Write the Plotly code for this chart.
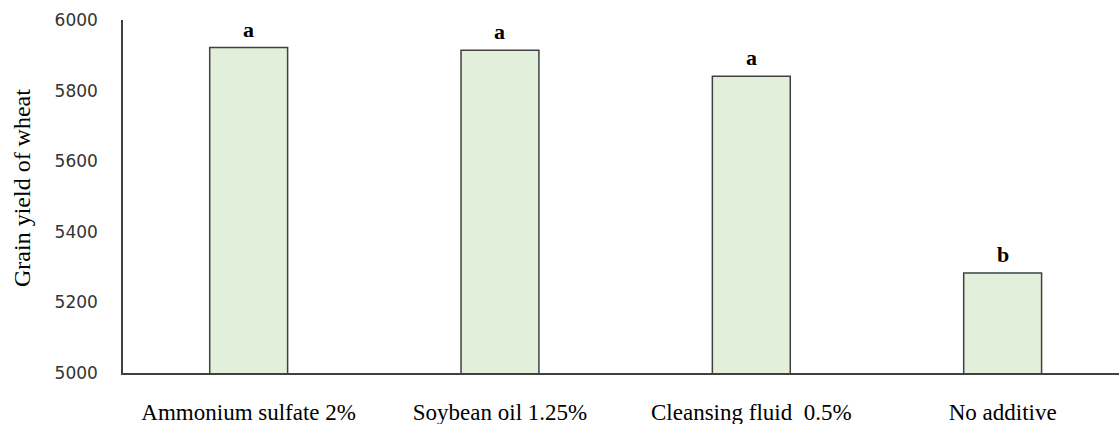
import plotly.graph_objects as go

categories = ["Ammonium sulfate 2%", "Soybean oil 1.25%", "Cleansing fluid  0.5%", "No additive"]
values = [5922, 5914, 5841, 5283]
letters = ["a", "a", "a", "b"]
y_ticks = [5000, 5200, 5400, 5600, 5800, 6000]

fig = go.Figure()
fig.add_trace(go.Bar(
    x=list(range(len(categories))), y=values, width=0.31,
    marker=dict(color="#e2efda", line=dict(color="#404040", width=1.5)),
))

for i, (v, l) in enumerate(zip(values, letters)):
    fig.add_annotation(x=i, y=v, text="<b>%s</b>" % l, showarrow=False,
                       yanchor="bottom", yshift=4,
                       font=dict(family="Liberation Serif", size=22, color="#000000"))

fig.add_annotation(xref="paper", yref="paper", x=-101/996, y=(373 - 188) / 353,
                   text="Grain yield of wheat",
                   textangle=-90, showarrow=False, xanchor="center", yanchor="middle",
                   font=dict(family="Liberation Serif", size=24, color="#000000"))

fig.update_layout(
    width=1119, height=424,
    margin=dict(l=123, r=0, t=20, b=51),
    paper_bgcolor="white", plot_bgcolor="white",
    showlegend=False,
    xaxis=dict(tickmode="array", tickvals=list(range(len(categories))), ticktext=categories,
               range=[-0.5, 3.463], showgrid=False, zeroline=False,
               showline=True, linecolor="#404040", linewidth=1.5,
               ticks="", ticklabelstandoff=18,
               tickfont=dict(family="Liberation Serif", size=23, color="#000000")),
    yaxis=dict(range=[5000, 6000], tickvals=y_ticks, showgrid=False, zeroline=False,
               showline=True, linecolor="#404040", linewidth=1.5,
               ticks="", ticklabelstandoff=20,
               tickfont=dict(family="DejaVu Sans", size=17, color="#333333")),
)

fig.write_html("out.html", config={"displayModeBar": False},
               post_script="document.body.style.margin='0';document.body.style.overflow='hidden';")
